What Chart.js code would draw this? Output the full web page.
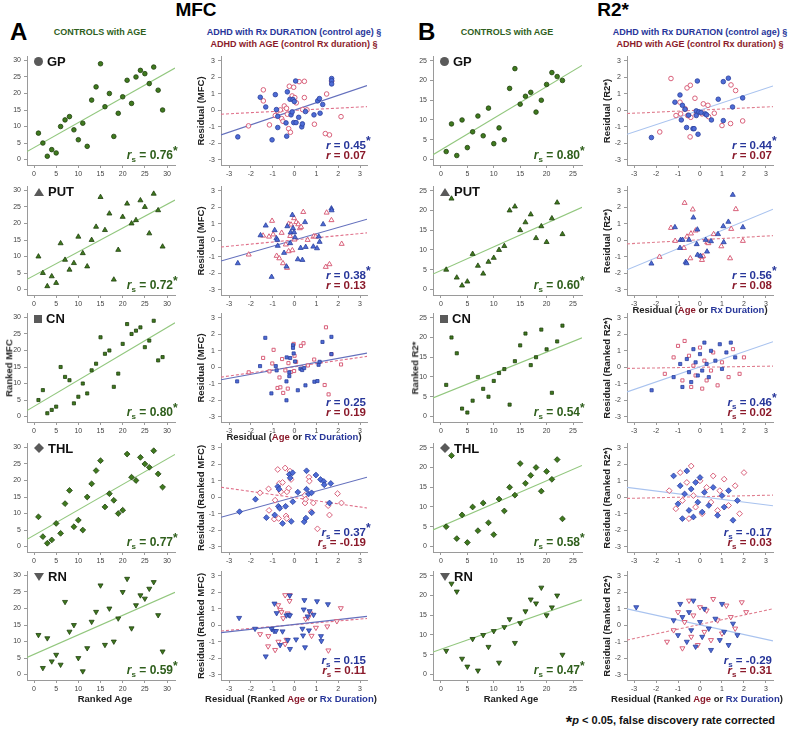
<!DOCTYPE html>
<html><head><meta charset="utf-8">
<script src="https://cdn.jsdelivr.net/npm/chart.js@4/dist/chart.umd.min.js"></script>
<style>
body{margin:0;width:789px;height:733px;background:#fff;position:relative;overflow:hidden;font-family:"Liberation Sans",Arial,sans-serif;}
canvas{position:absolute;z-index:1;}
.t{position:absolute;white-space:nowrap;font-weight:bold;z-index:2;line-height:1;}
.c{transform:translateX(-50%);}
.v{transform:translate(-50%,-50%) rotate(-90deg);}
.rl{text-align:right;}
.rl i{font-style:italic;}
.rl sub{font-size:8px;vertical-align:-3px;line-height:0;}
.rl sup{font-size:12px;vertical-align:4px;line-height:0;display:inline-block;width:0;overflow:visible;}
.sym{display:inline-block;background:#5a5a5a;margin-right:4px;vertical-align:0px;}
</style></head><body>
<script>
// ---------- DATA ----------
const ctrlMfcAge = [1,2,3,4,5,6,7,8,9,10,11,12,13,14,15,16,17,18,19,20,21,22,23,24,25,26,27,28,29];
const ctrlMfcGP  = [8,5,1,3,2,10,12,13,9,6,11,4,18,22,29,16,20,7,14,19,24,17,25,27,26,23,28,21,15];
const ctrlMfcPUT = [10,5,1,4,2,14,9,6,8,16,11,7,15,19,28,18,23,3,12,22,26,20,21,27,25,17,29,24,13];
const ctrlMfcCN  = [5,8,1,2,3,15,12,11,4,6,10,7,14,16,24,19,20,9,13,22,28,25,26,27,21,23,29,17,18];
const ctrlMfcTHL = [9,3,1,2,7,4,13,17,6,8,5,15,19,23,26,12,16,14,10,11,28,21,20,27,25,24,29,22,18];
const ctrlMfcRN  = [12,2,11,4,6,3,22,13,15,5,1,8,16,19,27,9,20,10,17,25,29,14,21,24,23,26,28,18,7];

const ctrlR2Age = [1,2,3,4,5,6,7,8,9,10,11,12,13,14,15,16,17,18,19,20,21,22,23];
const ctrlR2GP  = [2,9,1,10,3,7,11,6,13,4,8,5,18,23,14,16,17,12,15,19,22,21,20];
const ctrlR2PUT = [5,23,3,1,2,9,6,4,7,8,10,11,20,21,15,17,19,13,16,12,18,22,14];
const ctrlR2CN  = [8,20,16,2,1,4,10,7,5,9,11,12,3,14,18,21,13,15,22,17,6,19,23];
const ctrlR2THL = [5,23,2,8,1,10,4,11,6,3,12,9,15,13,21,16,18,20,14,19,17,22,7];
const ctrlR2RN  = [6,23,21,4,2,9,1,10,7,11,3,12,14,8,13,16,19,18,22,15,17,20,5];

// fit line values at left / right ends of the x axis (GP, PUT, CN, THL, RN)
const ctrlMfcFitL = [2.4,3.1,1.8,2.2,5.2];
const ctrlMfcFitR = [27.7,27.1,28.4,27.9,24.9];
const ctrlR2FitL  = [1.2,3.9,4.7,4.2,5.7];
const ctrlR2FitR  = [23.8,20.8,19.9,20.5,18.9];
const mfcRxFitL  = [-1.5,-1.26,-0.76,-1.22,-0.45];
const mfcRxFitR  = [1.5,1.28,0.86,1.22,0.54];
const mfcAgeFitL = [-0.24,-0.41,-0.6,0.61,-0.35];
const mfcAgeFitR = [0.22,0.45,0.66,-0.65,0.41];
const r2RxFitL  = [-1.46,-1.8,-1.5,0.6,1.0];
const r2RxFitR  = [1.48,1.89,1.55,-0.52,-0.95];
const r2AgeFitL = [-0.2,-0.22,-0.07,-0.07,-0.9];
const r2AgeFitR = [0.22,0.28,0.07,0.13,1.0];

// ADHD MFC residuals
const mfcGpRxX = [-2.6,-1.57,-1.32,-1.03,-0.88,-0.83,-0.77,-0.77,-0.39,-0.36,-0.33,-0.21,-0.16,-0.11,-0.07,-0.01,0.05,-0.04,0.07,0.19,0.33,0.36,0.5,0.89,1.06,1.14,1.17,1.29,1.7,1.7,1.7];
const mfcGpRxY = [-1.62,0.79,0.2,-1.8,0.95,0.04,-0.37,-1.05,-0.77,-1.58,1.12,0.67,-0.28,-0.1,0.65,0.53,1.78,-0.75,-0.75,-0.43,-1.01,-0.83,-0.08,-0.28,0.57,0.71,-0.18,0.35,1.93,1.8,1.6];
const mfcGpAgeX = [-2.11,-1.43,-1.43,-1.15,-0.88,-0.79,-0.65,-0.59,-0.53,-0.47,-0.37,-0.33,-0.27,-0.24,-0.19,-0.11,-0.04,0.01,0.08,0.21,0.37,0.45,0.45,0.57,0.91,1.47,1.7,1.41,1.6,2.13];
const mfcGpAgeY = [-0.95,1.24,0.57,-0.89,-0.32,-0.04,0.02,-0.51,-0.67,0.26,0.12,-0.24,-1.12,1.46,-1.34,0.87,1.4,0.77,0.45,1.74,0.04,1.76,0.77,0.02,-0.85,0.99,1.76,-1.42,-1.5,-0.39];
const mfcPutRxX = [-2.6,-1.32,-1.56,-1.05,-0.91,-0.83,-0.77,-0.79,-0.48,-0.37,-0.33,-0.2,-0.18,-0.1,-0.07,-0.02,0.02,0.15,0.28,0.36,0.48,0.51,0.86,1.03,1.11,1.15,1.31,1.69,1.7];
const mfcPutRxY = [-1.4,0.89,0.3,-2.23,0.61,0.12,-0.34,0.02,-0.77,-1.6,0.85,-0.18,0.47,1.54,0.73,0.49,0.18,-1.16,-0.47,-1.2,1.1,-0.41,-0.39,-0.49,0.22,-0.1,0.97,1.93,1.82];
const mfcPutAgeX = [-2.1,-1.44,-1.17,-1.03,-0.98,-0.82,-0.7,-0.59,-0.53,-0.4,-0.34,-0.27,-0.27,-0.2,-0.16,-0.1,-0.02,0,0.08,0.17,0.24,0.3,0.4,0.6,0.88,0.97,1.43,1.47,1.6,1.69,2.16];
const mfcPutAgeY = [-0.87,0.28,0.22,1.18,0.35,-0.95,-1.1,0.45,-1.4,-0.26,-1.68,1.0,-0.67,0.26,0.95,-0.61,1.34,0.04,1.1,0.97,0.73,0.81,1.72,0.02,0.24,0.22,-1.62,1.68,-1.46,1.22,-0.22];
const mfcCnRxX = [-2.63,-1.58,-1.34,-1.06,-0.86,-0.82,-0.37,-0.37,-0.36,-0.24,-0.24,-0.2,-0.07,-0.07,-0.04,0.02,0.15,0.27,0.35,0.44,0.5,0.91,1.05,1.1,1.15,1.28,1.69,1.69];
const mfcCnRxY = [-0.86,0.07,1.79,-1.59,0.07,-0.19,-0.86,-2.01,0.6,-0.31,-0.54,0.56,1.34,1.18,0.84,0.35,-1.4,-0.09,-0.17,-0.05,-1.1,-0.88,-0.84,0.15,0.33,1.54,0.8,1.85];
const mfcCnAgeX = [-2.1,-1.44,-1.15,-1.02,-0.96,-0.78,-0.69,-0.65,-0.57,-0.52,-0.42,-0.31,-0.28,-0.17,-0.04,-0.02,0,0.07,0.29,0.41,0.61,0.9,1.38,1.44,1.56,1.69,2.13];
const mfcCnAgeY = [-0.31,0.57,-0.25,0.23,1.06,-1.26,-0.62,-1.22,0.5,-1.56,-0.19,-1.3,0.25,-0.29,1.42,-0.23,0.7,0.33,1.3,1.46,0.11,0.47,-1.08,2.43,-1.65,0.8,0.17];
const mfcThlRxX = [-2.52,-1.79,-1.29,-0.91,-0.77,-0.74,-0.71,-0.68,-0.55,-0.41,-0.24,-0.2,-0.15,-0.09,-0.08,0.15,0.44,0.52,0.55,0.55,0.64,0.78,0.79,0.98,1.19,1.34,1.36,1.6,1.66];
const mfcThlRxY = [-0.88,-0.12,-1.24,-1.08,0.65,-0.55,0.49,-0.67,-1.59,-0.55,1.39,1.18,-1.47,1.49,-0.27,0.31,-1.49,-1.27,1.61,0.49,0.2,0.27,-0.94,1.35,1.08,0.96,0.76,-0.35,0.84];
const mfcThlAgeX = [-1.58,-1.19,-1.17,-0.93,-0.89,-0.77,-0.73,-0.7,-0.63,-0.55,-0.43,-0.39,-0.36,-0.35,-0.27,-0.21,-0.16,0.47,0.48,0.51,0.66,0.68,0.76,0.86,1.05,1.54,1.6,1.97,2.15];
const mfcThlAgeY = [0.27,0.51,-0.8,-1.33,-0.18,1.69,-1.29,0.84,0.33,0.9,1.78,-1.14,-1.29,0.33,0.55,1.59,1.08,0.12,-0.35,-0.12,1.22,0.98,-0.88,-0.35,-1.92,-0.51,-1.08,0.22,-0.35];
const mfcRnRxX = [-2.54,-1.81,-1.32,-1.05,-0.94,-0.92,-0.85,-0.82,-0.66,-0.55,-0.37,-0.31,-0.27,-0.22,-0.21,-0.21,0.07,0.36,0.39,0.42,0.45,0.48,0.6,0.66,0.69,0.87,1.03,1.21,1.23,1.53];
const mfcRnRxY = [0.45,-0.21,-1.89,-0.23,-0.35,1.32,-0.35,0.74,-1.2,-0.37,0.6,-0.9,0.64,1.81,0.6,-1.44,-0.86,-0.21,-0.62,0.96,1.53,-1.34,0.54,-0.31,0.86,0.64,1.46,-0.66,-0.96,1.28];
const mfcRnAgeX = [-1.58,-1.2,-1.21,-0.89,-0.74,-0.75,-0.66,-0.6,-0.52,-0.43,-0.43,-0.37,-0.32,-0.23,-0.22,0.51,0.63,0.72,0.78,0.98,1.5,1.55,1.94,2.12];
const mfcRnAgeY = [-0.54,-0.66,-1.28,-1.5,-1.0,1.22,0.94,0.8,0.43,1.83,-1.14,-0.88,0.72,1.48,1.83,0.39,0.47,0.72,-0.64,-0.15,-0.07,-1.53,0.25,1.04];

// ADHD R2* residuals
const r2GpRxX = [-2.21,-1.14,-0.91,-0.85,-0.8,-0.68,-0.61,-0.52,-0.32,-0.27,-0.17,-0.17,-0.12,-0.09,-0.05,0.05,0.24,0.3,0.52,0.83,1.06,1.06,1.29,1.48,1.94];
const r2GpRxY = [-1.66,0.49,0.93,-0.59,0.3,0.06,-1.05,-0.3,-1.12,-1.12,-0.04,-0.32,1.78,-1.46,-0.1,-0.14,-0.22,-0.28,-0.59,0.67,1.74,-0.63,1.95,0.2,0.75];
const r2GpAgeX = [-1.83,-1.32,-1.09,-0.91,-0.88,-0.67,-0.59,-0.56,-0.44,-0.42,-0.45,-0.23,-0.17,0.09,0.15,0.36,0.39,0.65,1.0,1.41,1.39,1.62,1.94];
const r2GpAgeY = [-1.32,1.93,-0.32,0.49,-0.22,0.08,1.36,-0.32,1.52,-0.43,-1.62,0.73,-0.24,-0.22,0.39,0.3,-0.39,-0.18,-0.93,1.54,-0.81,1.2,-0.65];
const r2PutRxX = [-2.21,-1.14,-0.91,-0.88,-0.79,-0.65,-0.61,-0.5,-0.3,-0.15,-0.12,-0.11,0.02,0.26,0.32,0.5,0.82,1.08,1.06,1.29,1.49,1.95];
const r2PutRxY = [-1.42,0.79,-0.47,0.02,0.02,-1.32,-1.4,0.02,1.38,-0.24,0.65,-0.89,-0.95,0.02,-0.69,-0.06,0.37,-0.12,0.85,1.12,2.76,0.79];
const r2PutAgeX = [-1.84,-1.32,-1.13,-0.73,-0.7,-0.59,-0.44,-0.41,-0.33,-0.2,0.08,0.09,0.14,0.33,0.38,0.62,0.97,1.37,1.42,1.63,1.95];
const r2PutAgeY = [-1.01,0.75,-0.04,-0.47,2.27,0.22,-1.1,0.41,1.87,0.59,-1.01,-1.2,-0.97,-0.12,-0.18,0.37,-0.37,-1.1,0.69,1.89,-0.04];
const r2CnRxX = [-2.2,-1.2,-0.9,-0.8,-0.6,-0.5,-0.4,-0.3,-0.2,-0.1,0,0.1,0.2,0.3,0.4,0.5,0.7,0.9,1.0,1.2,1.4,1.6];
const r2CnRxY = [-1.4,-0.6,0.2,-1.2,0.5,-0.3,-0.9,1.1,0.3,-0.5,0.8,-0.2,1.5,0.2,-0.6,1.0,0.4,1.4,-0.1,0.9,1.5,0.6];
const r2CnAgeX = [-1.6,-1.2,-1.0,-0.8,-0.7,-0.5,-0.4,-0.3,-0.2,0,0.1,0.2,0.3,0.5,0.6,0.8,1.0,1.3,1.5,1.8,2.0];
const r2CnAgeY = [-0.4,0.6,1.3,-0.8,1.6,0.7,-1.2,0.1,-0.5,1.2,-1.3,0.4,-0.8,-0.2,0.9,-1.1,0.3,-0.6,1.1,-0.4,0.6];
const r2ThlRxX = [-1.2,-1.0,-0.9,-0.8,-0.7,-0.6,-0.5,-0.4,-0.3,-0.2,-0.1,0,0.1,0.2,0.4,0.6,0.8,1.0,1.1,1.3,1.5,1.7];
const r2ThlRxY = [1.3,-0.4,0.7,-1.3,0.2,1.6,-0.8,0.5,-1.2,0.9,-0.3,1.2,-0.9,0.3,-0.5,0.6,-1.1,0.1,-0.6,0.4,-1.4,-0.2];
const r2ThlAgeX = [-1.4,-1.1,-0.9,-0.8,-0.6,-0.5,-0.4,-0.3,-0.2,0,0.1,0.3,0.5,0.6,0.8,0.9,1.1,1.3,1.6,1.8,2.0];
const r2ThlAgeY = [0.4,-0.7,1.5,-0.2,0.9,-1.3,1.9,0.1,-0.6,1.0,-1.0,0.6,-0.3,1.3,-0.8,0.4,1.1,-0.5,0.7,-1.0,1.5];
const r2RnRxX = [-2.9,-1.2,-1.0,-0.9,-0.8,-0.6,-0.5,-0.4,-0.3,-0.2,0,0.1,0.2,0.4,0.5,0.7,0.9,1.0,1.1,1.3,1.5,1.7];
const r2RnRxY = [1.1,0.3,-0.6,1.3,0.5,-1.0,0.8,-0.3,1.5,-1.3,0.2,-0.7,1.0,-0.2,-1.5,0.4,-0.9,1.3,-0.4,-1.2,0.1,-0.6];
const r2RnAgeX = [-1.5,-1.2,-1.0,-0.8,-0.7,-0.5,-0.4,-0.3,-0.1,0,0.2,0.3,0.5,0.6,0.8,1.0,1.2,1.4,1.6,1.9,2.1];
const r2RnAgeY = [-1.0,-0.3,0.8,-1.4,0.2,1.5,-0.7,0.6,-1.2,1.1,-0.4,0.9,-0.9,1.6,0.3,-0.5,1.2,0.5,-0.2,1.4,0.8];

const regions = ['GP','PUT','CN','THL','RN'];
const ctrlMfcR = ['0.76*','0.72*','0.80*','0.77*','0.59*'];
const ctrlR2R  = ['0.80*','0.60*','0.54*','0.58*','0.47*'];
const mfcRxR  = ['0.45*','0.38*','0.25','0.37*','0.15'];
const mfcAgeR = ['0.07','0.13','0.19','-0.19','0.11'];
const mfcRIsSpearman = [false,false,false,true,true];
const r2RxR  = ['0.44*','0.56*','0.46*','-0.17','-0.29'];
const r2AgeR = ['0.07','0.08','0.02','0.03','0.31'];
const r2RIsSpearman = [false,false,true,true,true];

const rankTicks30 = [0,5,10,15,20,25,30];
const rankTicks25 = [0,5,10,15,20,25];
const residTicks = [-3,-2,-1,0,1,2,3];

// ---------- LAYOUT ----------
const FONT = '"Liberation Sans", Arial, sans-serif';
const colL = [27,221,433,627], colR = [175,367,582,773];
const rowT = [56,186,313,443,571], rowB = [165,295,422,552,680];
const shapes = ['circle','triangle','rect','rectRot','triangle'];
const rots = [0,0,0,0,180];
const radii = [2.3,2.9,2.2,2.9,2.9];

const GREEN_TXT='#2f5f1c', BLUE_TXT='#27369a', RED_TXT='#8b1a2b';

function pts(xs,ys){return xs.map((x,i)=>({x:x,y:ys[i]}));}

function makeChart(col,row,xr,yr,xt,yt,datasets){
  const L=colL[col],R=colR[col],T=rowT[row],B=rowB[row];
  const YW=26,XH=16,PT=4,PRT=8;
  const c=document.createElement('canvas');
  const w=R-L+YW+PRT,h=B-T+PT+XH;
  c.width=w;c.height=h;
  c.style.left=(L-YW)+'px';c.style.top=(T-PT)+'px';
  c.style.width=w+'px';c.style.height=h+'px';
  document.body.appendChild(c);
  const axisCommon={
    grid:{display:true,drawOnChartArea:false,drawTicks:true,tickLength:3,color:'#9a9a9a',lineWidth:1},
    border:{display:true,color:'#9a9a9a',width:1}
  };
  new Chart(c,{type:'scatter',data:{datasets:datasets},options:{
    responsive:false,animation:false,devicePixelRatio:1,
    layout:{padding:{top:PT,right:PRT,left:0,bottom:0},autoPadding:false},
    plugins:{legend:{display:false},tooltip:{enabled:false}},
    scales:{
      x:Object.assign({type:'linear',min:xr[0],max:xr[1],
        afterBuildTicks:s=>{s.ticks=xt.map(v=>({value:v}));},
        afterFit:s=>{s.height=XH;s.paddingLeft=0;s.paddingRight=0;},
        ticks:{font:{size:7,family:FONT},color:'#444',padding:2,maxRotation:0,autoSkip:false}},axisCommon),
      y:Object.assign({type:'linear',min:yr[0],max:yr[1],
        afterBuildTicks:s=>{s.ticks=yt.map(v=>({value:v}));},
        afterFit:s=>{s.width=YW;s.paddingTop=0;s.paddingBottom=0;},
        ticks:{font:{size:7,family:FONT},color:'#444',padding:3,autoSkip:false}},axisCommon)
    }
  }});
}

function ctrlSet(row,xs,ys){
  return {data:pts(xs,ys),pointStyle:shapes[row],rotation:rots[row],pointRadius:radii[row],
    backgroundColor:'#3f7a1e',borderColor:'#1f3f0e',borderWidth:0.8};
}
function lineSet(x0,x1,yl,yr,color,dash){
  return {data:[{x:x0,y:yl},{x:x1,y:yr}],showLine:true,pointRadius:0,borderColor:color,borderWidth:1.1,borderDash:dash||[],fill:false};
}
function rxSet(row,xs,ys){
  return {data:pts(xs,ys),pointStyle:shapes[row],rotation:rots[row],pointRadius:radii[row],
    backgroundColor:'#4d6cd6',borderColor:'#2b3f9c',borderWidth:0.8};
}
function ageSet(row,xs,ys){
  return {data:pts(xs,ys),pointStyle:shapes[row],rotation:rots[row],pointRadius:radii[row],
    backgroundColor:'rgba(255,255,255,0.85)',borderColor:'#d8607a',borderWidth:1};
}

const ctrlMfcY=[ctrlMfcGP,ctrlMfcPUT,ctrlMfcCN,ctrlMfcTHL,ctrlMfcRN];
const ctrlR2Y=[ctrlR2GP,ctrlR2PUT,ctrlR2CN,ctrlR2THL,ctrlR2RN];
const mfcRx=[[mfcGpRxX,mfcGpRxY],[mfcPutRxX,mfcPutRxY],[mfcCnRxX,mfcCnRxY],[mfcThlRxX,mfcThlRxY],[mfcRnRxX,mfcRnRxY]];
const mfcAge=[[mfcGpAgeX,mfcGpAgeY],[mfcPutAgeX,mfcPutAgeY],[mfcCnAgeX,mfcCnAgeY],[mfcThlAgeX,mfcThlAgeY],[mfcRnAgeX,mfcRnAgeY]];
const r2Rx=[[r2GpRxX,r2GpRxY],[r2PutRxX,r2PutRxY],[r2CnRxX,r2CnRxY],[r2ThlRxX,r2ThlRxY],[r2RnRxX,r2RnRxY]];
const r2Age=[[r2GpAgeX,r2GpAgeY],[r2PutAgeX,r2PutAgeY],[r2CnAgeX,r2CnAgeY],[r2ThlAgeX,r2ThlAgeY],[r2RnAgeX,r2RnAgeY]];

const xr1=[-1.58,31.8], yr1=[-1.65,31.35];
const xr2=[-3.37,3.32], yr2=[-3.33,3.3];
const xr3=[-1.5,26.7], yr3=[-1.4,26.2];
const xr4=[-3.32,3.32];

for(let r=0;r<5;r++){
  makeChart(0,r,xr1,yr1,rankTicks30,rankTicks30,[
    ctrlSet(r,ctrlMfcAge,ctrlMfcY[r]),
    lineSet(xr1[0],xr1[1],ctrlMfcFitL[r],ctrlMfcFitR[r],'#92c77e')]);
  makeChart(1,r,xr2,yr2,residTicks,residTicks,[
    rxSet(r,mfcRx[r][0],mfcRx[r][1]),
    ageSet(r,mfcAge[r][0],mfcAge[r][1]),
    lineSet(xr2[0],xr2[1],mfcRxFitL[r],mfcRxFitR[r],'#6470bd'),
    lineSet(xr2[0],xr2[1],mfcAgeFitL[r],mfcAgeFitR[r],'#e0708a',[3,2])]);
  makeChart(2,r,xr3,yr3,rankTicks25,rankTicks25,[
    ctrlSet(r,ctrlR2Age,ctrlR2Y[r]),
    lineSet(xr3[0],xr3[1],ctrlR2FitL[r],ctrlR2FitR[r],'#92c77e')]);
  makeChart(3,r,xr4,yr2,residTicks,residTicks,[
    rxSet(r,r2Rx[r][0],r2Rx[r][1]),
    ageSet(r,r2Age[r][0],r2Age[r][1]),
    lineSet(xr4[0],xr4[1],r2RxFitL[r],r2RxFitR[r],'#a9c3ef'),
    lineSet(xr4[0],xr4[1],r2AgeFitL[r],r2AgeFitR[r],'#e07f90',[3,2])]);
}

// ---------- TEXT ----------
function txt(html,css,cls){
  const d=document.createElement('div');
  d.className='t '+(cls||'');
  d.innerHTML=html;
  Object.assign(d.style,css);
  document.body.appendChild(d);
  return d;
}
txt('MFC',{left:'196px',top:'0px',fontSize:'19px'},'c');
txt('R2*',{left:'613px',top:'0px',fontSize:'19px'},'c');
txt('A',{left:'10px',top:'20px',fontSize:'24px'});
txt('B',{left:'418px',top:'20px',fontSize:'24px'});
txt('CONTROLS with AGE',{left:'100px',top:'28px',fontSize:'9px',color:GREEN_TXT},'c');
txt('CONTROLS with AGE',{left:'507px',top:'28px',fontSize:'9px',color:GREEN_TXT},'c');
txt('ADHD with Rx DURATION (control age) §',{left:'294px',top:'28px',fontSize:'9px',color:BLUE_TXT},'c');
txt('ADHD with AGE (control Rx duration) §',{left:'294px',top:'39.5px',fontSize:'9px',color:RED_TXT},'c');
txt('ADHD with Rx DURATION (control age) §',{left:'700px',top:'28px',fontSize:'9px',color:BLUE_TXT},'c');
txt('ADHD with AGE (control Rx duration) §',{left:'700px',top:'39.5px',fontSize:'9px',color:RED_TXT},'c');

const symCss=[
  'width:9px;height:9px;border-radius:50%;',
  'width:10px;height:8px;clip-path:polygon(50% 0,100% 100%,0 100%);',
  'width:8px;height:8px;',
  'width:10px;height:10px;clip-path:polygon(50% 0,100% 50%,50% 100%,0 50%);',
  'width:10px;height:8px;clip-path:polygon(0 0,100% 0,50% 100%);'
];
function rowLabel(col,r){
  txt('<span class="sym" style="'+symCss[r]+'"></span>'+regions[r],
      {left:(colL[col]+7)+'px',top:(rowT[r]-1)+'px',fontSize:'13px',color:'#111'});
}
function rHtml(sp,val){
  const star=val.endsWith('*');
  const v=star?val.slice(0,-1):val;
  return '<i>r</i>'+(sp?'<sub>s</sub>':'')+' = '+v+(star?'<sup>*</sup>':'');
}
for(let r=0;r<5;r++){
  rowLabel(0,r); rowLabel(2,r);
  txt(rHtml(true,ctrlMfcR[r]),{right:(789-(colR[0]-2))+'px',top:(rowB[r]-16)+'px',fontSize:'12px',color:GREEN_TXT},'rl');
  txt(rHtml(true,ctrlR2R[r]),{right:(789-(colR[2]-2))+'px',top:(rowB[r]-16)+'px',fontSize:'12px',color:GREEN_TXT},'rl');
  txt(rHtml(mfcRIsSpearman[r],mfcRxR[r]),{right:(789-(colR[1]-1))+'px',top:(rowB[r]-25)+'px',fontSize:'11.5px',color:BLUE_TXT},'rl');
  txt(rHtml(mfcRIsSpearman[r],mfcAgeR[r]),{right:(789-(colR[1]-1))+'px',top:(rowB[r]-15)+'px',fontSize:'11.5px',color:RED_TXT},'rl');
  txt(rHtml(r2RIsSpearman[r],r2RxR[r]),{right:(789-(colR[3]-1))+'px',top:(rowB[r]-25)+'px',fontSize:'11.5px',color:BLUE_TXT},'rl');
  txt(rHtml(r2RIsSpearman[r],r2AgeR[r]),{right:(789-(colR[3]-1))+'px',top:(rowB[r]-15)+'px',fontSize:'11.5px',color:RED_TXT},'rl');
}
// axis titles
const AX={fontSize:'9.5px',color:'#222'};
function vt(text,x,r){txt(text,Object.assign({left:x+'px',top:((rowT[r]+rowB[r])/2)+'px'},AX),'v');}
vt('Ranked MFC',9,2);
vt('Ranked R2*',415,2);
vt('Residual (MFC)',201,0); vt('Residual (MFC)',201,1); vt('Residual (MFC)',201,2);
vt('Residual (Ranked MFC)',201,3); vt('Residual (Ranked MFC)',201,4);
vt('Residual (R2*)',607,0); vt('Residual (R2*)',607,1);
vt('Residual (Ranked R2*)',607,2); vt('Residual (Ranked R2*)',607,3); vt('Residual (Ranked R2*)',607,4);
const AGE='<span style="color:#8b1a2b">Age</span>', RXD='<span style="color:#27369a">Rx Duration</span>';
txt('Ranked Age',Object.assign({left:'105px',top:'694px'},AX),'c');
txt('Ranked Age',Object.assign({left:'511px',top:'694px'},AX),'c');
txt('Residual ('+AGE+' or '+RXD+')',Object.assign({left:'294px',top:'432px'},AX),'c');
txt('Residual ('+AGE+' or '+RXD+')',Object.assign({left:'700px',top:'305px'},AX),'c');
txt('Residual (Ranked '+AGE+' or '+RXD+')',Object.assign({left:'291px',top:'694px'},AX),'c');
txt('Residual (Ranked '+AGE+' or '+RXD+')',Object.assign({left:'697px',top:'694px'},AX),'c');
txt('<span style="font-size:17px;vertical-align:-4px">*</span><i>p</i> &lt; 0.05, false discovery rate corrected',
    {right:'14px',top:'714px',fontSize:'11px',color:'#111'});
</script>
</body></html>
